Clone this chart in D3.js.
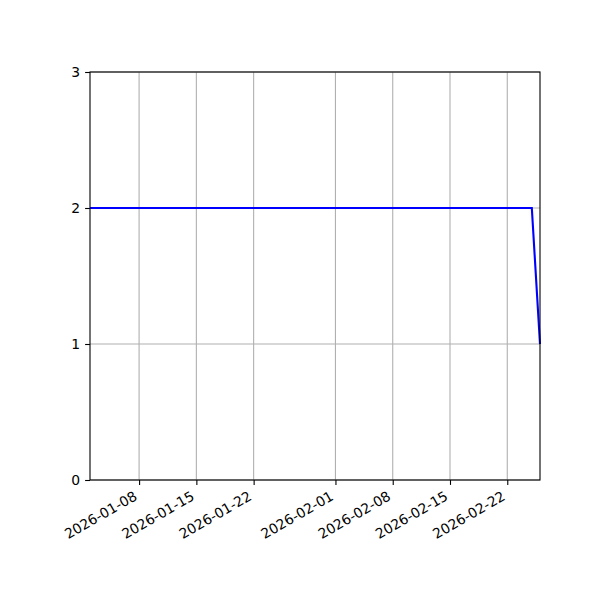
<!DOCTYPE html>
<html>
<head>
<meta charset="utf-8">
<script src="https://cdn.jsdelivr.net/npm/d3@7"></script>
<style>
  body { margin: 0; background: white; }
  text { font-family: "DejaVu Sans", sans-serif; font-size: 13.9px; fill: black; }
</style>
</head>
<body>
<div id="chart"></div>
<script>
//////////////////////////////////////////////////////////////
//////////////////////////// Data ////////////////////////////
//////////////////////////////////////////////////////////////

const dates = ["2026-01-02", "2026-02-25", "2026-02-26"]
const values = [2, 2, 1]
const xDomain = ["2026-01-02", "2026-02-26"]
const xTicks = ["2026-01-08", "2026-01-15", "2026-01-22", "2026-02-01", "2026-02-08", "2026-02-15", "2026-02-22"]
const yTicks = [0, 1, 2, 3]

const parse = d3.utcParse("%Y-%m-%d")
const fmt = d3.utcFormat("%Y-%m-%d")
const data = dates.map((d, i) => ({ date: parse(d), value: values[i] }))

//////////////////////////////////////////////////////////////
///////////////////////// Create SVG /////////////////////////
//////////////////////////////////////////////////////////////

const margin = { top: 72, right: 60, bottom: 120, left: 90 }
const width = 600 - margin.left - margin.right
const height = 600 - margin.top - margin.bottom
const tickLen = 4.9
const tickPad = 4.9

const svg = d3.select("#chart")
    .append("svg")
    .attr("width", 600)
    .attr("height", 600)
    .append("g")
    .attr("transform", "translate(" + margin.left + "," + margin.top + ")")

const x = d3.scaleUtc()
    .domain(xDomain.map(parse))
    .range([0, width])

const y = d3.scaleLinear()
    .domain([0, 3])
    .range([height, 0])

//Gridlines
svg.append("g").selectAll("line")
    .data(xTicks.map(parse))
    .enter().append("line")
    .attr("x1", d => x(d)).attr("x2", d => x(d))
    .attr("y1", 0).attr("y2", height)
    .style("stroke", "#b0b0b0").style("stroke-width", 1.1)

svg.append("g").selectAll("line")
    .data(yTicks)
    .enter().append("line")
    .attr("x1", 0).attr("x2", width)
    .attr("y1", d => y(d)).attr("y2", d => y(d))
    .style("stroke", "#b0b0b0").style("stroke-width", 1.1)

//Line
const line = d3.line()
    .x(d => x(d.date))
    .y(d => y(d.value))

svg.append("path")
    .datum(data)
    .attr("d", line)
    .style("fill", "none")
    .style("stroke", "#0000ff")
    .style("stroke-width", 2.1)

//Axes
const xAxis = svg.append("g")
    .attr("transform", "translate(0," + height + ")")
    .call(d3.axisBottom(x).tickValues(xTicks.map(parse)).tickFormat(fmt).tickSize(tickLen).tickPadding(tickPad))

//Rotated labels, right edge of the rotated box at the tick (matplotlib autofmt_xdate)
xAxis.selectAll(".tick text")
    .attr("x", 0).attr("y", 0)
    .attr("dy", "0.76em")
    .attr("text-anchor", "end")
    .attr("transform", "translate(-6.8," + (tickLen + tickPad) + ") rotate(-30)")

svg.append("g")
    .call(d3.axisLeft(y).tickValues(yTicks).tickFormat(d3.format("d")).tickSize(tickLen).tickPadding(tickPad))

svg.selectAll(".domain").remove()
svg.selectAll(".tick line").style("stroke", "black").style("stroke-width", 1.1)
svg.selectAll(".tick text").style("font-family", "DejaVu Sans").style("font-size", "13.9px")

//Frame
svg.append("rect")
    .attr("width", width).attr("height", height)
    .style("fill", "none").style("stroke", "black").style("stroke-width", 1.1)
</script>
</body>
</html>
